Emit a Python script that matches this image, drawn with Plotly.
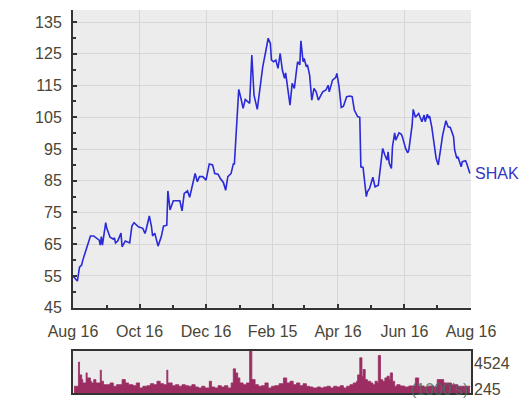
import plotly.graph_objects as go

# ---- price series ----
price_dates = [
    "2014-08-16", "2014-08-20", "2014-08-22", "2014-08-24", "2014-08-25", "2014-08-29", "2014-09-01",
    "2014-09-04", "2014-09-09", "2014-09-10", "2014-09-11", "2014-09-12", "2014-09-15", "2014-09-16",
    "2014-09-19", "2014-09-22", "2014-09-23", "2014-09-24", "2014-09-26", "2014-09-29", "2014-09-30",
    "2014-10-01", "2014-10-03", "2014-10-07", "2014-10-09", "2014-10-11", "2014-10-15", "2014-10-19",
    "2014-10-21", "2014-10-22", "2014-10-25", "2014-10-27", "2014-10-28", "2014-10-30", "2014-11-02",
    "2014-11-05", "2014-11-07", "2014-11-10", "2014-11-11", "2014-11-13", "2014-11-16", "2014-11-22",
    "2014-11-24", "2014-11-26", "2014-11-29", "2014-12-01", "2014-12-04", "2014-12-06", "2014-12-08",
    "2014-12-10", "2014-12-13", "2014-12-16", "2014-12-19", "2014-12-22", "2014-12-24", "2014-12-27",
    "2014-12-29", "2015-01-01", "2015-01-03", "2015-01-04", "2015-01-05", "2015-01-08", "2015-01-10",
    "2015-01-11", "2015-01-13", "2015-01-15", "2015-01-17", "2015-01-19", "2015-01-21", "2015-01-23",
    "2015-01-25", "2015-01-27", "2015-01-29", "2015-02-01", "2015-02-04", "2015-02-06", "2015-02-09",
    "2015-02-11", "2015-02-13", "2015-02-14", "2015-02-16", "2015-02-18", "2015-02-20", "2015-02-22",
    "2015-02-24", "2015-02-26", "2015-02-27", "2015-03-01", "2015-03-03", "2015-03-05", "2015-03-07",
    "2015-03-09", "2015-03-10", "2015-03-12", "2015-03-13", "2015-03-15", "2015-03-16", "2015-03-18",
    "2015-03-19", "2015-03-21", "2015-03-23", "2015-03-25", "2015-03-27", "2015-03-29", "2015-03-31",
    "2015-04-02", "2015-04-05", "2015-04-07", "2015-04-08", "2015-04-10", "2015-04-11", "2015-04-14",
    "2015-04-15", "2015-04-17", "2015-04-19", "2015-04-21", "2015-04-24", "2015-04-27", "2015-04-29",
    "2015-05-01", "2015-05-03", "2015-05-04", "2015-05-06", "2015-05-07", "2015-05-09", "2015-05-12",
    "2015-05-13", "2015-05-15", "2015-05-18", "2015-05-20", "2015-05-23", "2015-05-24", "2015-05-27",
    "2015-05-29", "2015-05-31", "2015-06-01", "2015-06-02", "2015-06-04", "2015-06-05", "2015-06-07",
    "2015-06-08", "2015-06-11", "2015-06-13", "2015-06-14", "2015-06-17", "2015-06-19", "2015-06-20",
    "2015-06-23", "2015-06-24", "2015-06-26", "2015-06-28", "2015-06-29", "2015-07-02", "2015-07-04",
    "2015-07-05", "2015-07-07", "2015-07-08", "2015-07-09", "2015-07-11", "2015-07-13", "2015-07-15",
    "2015-07-17", "2015-07-19", "2015-07-21", "2015-07-24", "2015-07-26", "2015-07-28", "2015-07-31",
    "2015-08-01", "2015-08-03", "2015-08-04", "2015-08-07", "2015-08-08", "2015-08-11", "2015-08-12",
    "2015-08-15",
]
price_values = [
    55.0, 53.4, 57.8, 58.5, 60.0, 64.2, 67.6,
    67.6, 66.3, 64.7, 67.4, 64.7, 71.8, 70.0,
    67.2, 66.6, 67.0, 65.4, 66.0, 68.5, 64.2,
    64.8, 66.0, 65.4, 70.7, 71.8, 70.5, 70.0,
    68.4, 69.5, 73.9, 70.5, 67.6, 68.5, 64.4,
    67.4, 70.7, 71.0, 81.8, 75.8, 78.7, 78.7,
    75.5, 81.0, 81.8, 79.8, 84.7, 87.3, 84.7,
    86.3, 86.3, 85.2, 90.3, 90.0, 87.3, 87.1,
    85.8, 84.4, 82.0, 84.4, 86.3, 87.3, 90.3,
    90.3, 101.0, 113.8, 111.0, 107.8, 110.6, 109.9,
    109.4, 124.6, 112.0, 107.5, 116.2, 120.9, 126.2,
    129.9, 128.3, 123.0, 122.5, 123.0, 120.4, 125.1,
    119.9, 117.3, 119.0, 113.6, 108.8, 115.7, 114.1,
    119.9, 122.5, 121.5, 129.1, 122.5, 123.5, 120.9,
    121.5, 118.3, 110.4, 114.1, 113.0, 110.4, 112.0,
    113.0, 113.6, 115.1, 113.0, 116.2, 116.7, 117.6,
    118.8, 114.6, 108.1, 108.5, 111.5, 111.7, 111.5,
    107.3, 105.7, 105.2, 105.0, 89.4, 89.2, 80.0,
    81.5, 82.6, 86.1, 83.1, 83.6, 86.3, 95.2,
    93.1, 91.5, 94.1, 90.5, 88.9, 95.8, 100.1,
    97.8, 100.1, 99.7, 98.9, 95.2, 93.8, 94.7,
    102.5, 107.5, 105.0, 105.7, 106.2, 103.6, 105.7,
    103.6, 106.0, 104.7, 105.4, 102.0, 96.8, 92.1,
    90.0, 95.2, 99.4, 103.9, 102.0, 101.8, 98.9,
    94.7, 92.1, 92.6, 89.4, 91.0, 91.3, 90.5,
    87.3,
]

# ---- volume series, thousands ----
volume_dates = [
    "2014-08-17", "2014-08-19", "2014-08-21", "2014-08-22", "2014-08-24", "2014-08-25", "2014-08-28",
    "2014-08-29", "2014-09-01", "2014-09-02", "2014-09-04", "2014-09-06", "2014-09-10", "2014-09-11",
    "2014-09-13", "2014-09-16", "2014-09-19", "2014-09-22", "2014-09-25", "2014-09-30", "2014-10-03",
    "2014-10-06", "2014-10-10", "2014-10-13", "2014-10-16", "2014-10-19", "2014-10-23", "2014-10-26",
    "2014-10-29", "2014-11-01", "2014-11-04", "2014-11-07", "2014-11-10", "2014-11-11", "2014-11-15",
    "2014-11-18", "2014-11-21", "2014-11-24", "2014-11-27", "2014-11-30", "2014-12-03", "2014-12-06",
    "2014-12-09", "2014-12-12", "2014-12-15", "2014-12-19", "2014-12-21", "2014-12-24", "2014-12-27",
    "2014-12-30", "2015-01-02", "2015-01-05", "2015-01-08", "2015-01-10", "2015-01-12", "2015-01-14",
    "2015-01-16", "2015-01-19", "2015-01-22", "2015-01-25", "2015-01-27", "2015-01-30", "2015-02-02",
    "2015-02-05", "2015-02-08", "2015-02-11", "2015-02-14", "2015-02-17", "2015-02-21", "2015-02-25",
    "2015-02-28", "2015-03-03", "2015-03-06", "2015-03-09", "2015-03-12", "2015-03-15", "2015-03-18",
    "2015-03-21", "2015-03-24", "2015-03-28", "2015-03-31", "2015-04-03", "2015-04-06", "2015-04-09",
    "2015-04-12", "2015-04-15", "2015-04-18", "2015-04-21", "2015-04-24", "2015-04-27", "2015-04-30",
    "2015-05-03", "2015-05-04", "2015-05-06", "2015-05-08", "2015-05-09", "2015-05-11", "2015-05-13",
    "2015-05-16", "2015-05-18", "2015-05-20", "2015-05-22", "2015-05-23", "2015-05-25", "2015-05-27",
    "2015-05-29", "2015-05-31", "2015-06-02", "2015-06-03", "2015-06-05", "2015-06-07", "2015-06-09",
    "2015-06-12", "2015-06-16", "2015-06-20", "2015-06-26", "2015-06-29", "2015-07-04", "2015-07-08",
    "2015-07-13", "2015-07-16", "2015-07-22", "2015-07-29", "2015-08-04", "2015-08-10", "2015-08-15",
]
volume_values = [
    727, 727, 3331, 1953, 1443, 1085, 2170,
    1628, 1269, 1085, 1443, 1085, 2463, 1269,
    901, 901, 1085, 727, 901, 1443, 1085,
    901, 792, 1085, 543, 727, 792, 1009,
    901, 1269, 1009, 901, 2463, 1085, 792,
    901, 727, 901, 792, 727, 901, 651,
    543, 727, 543, 1269, 651, 543, 792,
    651, 792, 543, 1085, 2604, 2170, 1628,
    1085, 901, 1085, 4524, 1443, 901, 727,
    792, 1085, 543, 727, 792, 1009, 1628,
    1085, 1269, 901, 1085, 792, 1009, 727,
    651, 543, 651, 543, 651, 727, 543,
    727, 651, 792, 543, 727, 901, 1085,
    1269, 1953, 3798, 1812, 2528, 1443, 1269,
    1085, 901, 1269, 1085, 4047, 1443, 1269,
    1628, 1812, 1443, 2170, 1269, 727, 901,
    760, 651, 760, 1628, 760, 651, 760,
    651, 1443, 1085, 901, 727, 727, 651,
]

tick_dates = ["2014-08-16", "2014-10-16", "2014-12-16", "2015-02-15", "2015-04-16", "2015-06-16", "2015-08-16"]
tick_labels = ["Aug 16", "Oct 16", "Dec 16", "Feb 15", "Apr 16", "Jun 16", "Aug 16"]
minor_dates = ["2014-09-16", "2014-11-16", "2015-01-16", "2015-03-16", "2015-05-16", "2015-07-16"]
price_ticks = [45, 55, 65, 75, 85, 95, 105, 115, 125, 135]
price_minor = [50, 60, 70, 80, 90, 100, 110, 120, 130]
volume_labels = ["4524", "245"]
ticker = "SHAK"

FONT = "Liberation Sans, Arial, sans-serif"
TXT = "#4a4535"
BG = "#ececec"
GRID = "#d6d6d6"
AX = "#333333"

fig = go.Figure()
fig.add_trace(go.Scatter(
    x=price_dates, y=price_values, mode="lines",
    line=dict(color="#2a2ad8", width=1.6), xaxis="x", yaxis="y", showlegend=False,
))
fig.add_trace(go.Scatter(
    x=volume_dates, y=volume_values, mode="lines", fill="tozeroy",
    line=dict(color="#9b2d62", width=0.8, shape="hv"), fillcolor="#9b2d62",
    xaxis="x2", yaxis="y2", showlegend=False,
))

x_range = ["2014-08-16", "2015-08-16"]
fig.update_layout(
    width=525, height=399, autosize=False,
    margin=dict(l=73, r=54, t=10, b=6, autoexpand=False),
    paper_bgcolor="white", plot_bgcolor=BG,
    font=dict(family=FONT, size=16, color=TXT),
    xaxis=dict(
        domain=[0, 1], anchor="y", range=x_range, type="date", automargin=False,
        tickmode="array", tickvals=tick_dates, ticktext=tick_labels,
        ticks="inside", ticklen=4, tickcolor=AX, tickwidth=1.5,
        showgrid=True, gridcolor=GRID, gridwidth=1,
        showline=True, linecolor=AX, linewidth=2,
        minor=dict(tickmode="array", tickvals=minor_dates, ticks="inside", ticklen=3,
                   tickcolor=AX, tickwidth=1.5, showgrid=False),
        ticklabelstandoff=8, zeroline=False,
        tickfont=dict(family=FONT, size=16, color=TXT),
    ),
    yaxis=dict(
        domain=[0.2227, 1.0], anchor="x", range=[45, 138.8], automargin=False,
        tickmode="array", tickvals=price_ticks,
        ticks="inside", ticklen=4, tickcolor=AX, tickwidth=1.5,
        showgrid=True, gridcolor=GRID, gridwidth=1,
        showline=True, linecolor=AX, linewidth=2,
        minor=dict(tickmode="array", tickvals=price_minor, ticks="inside", ticklen=3,
                   tickcolor=AX, tickwidth=1.5, showgrid=False),
        ticklabelstandoff=6, zeroline=False,
        tickfont=dict(family=FONT, size=16, color=TXT),
    ),
    xaxis2=dict(
        domain=[0, 1], anchor="y2", range=x_range, type="date", automargin=False,
        showticklabels=False, ticks="", showgrid=False, zeroline=False,
        showline=True, mirror=True, linecolor=AX, linewidth=1.5,
    ),
    yaxis2=dict(
        domain=[0, 0.1104], anchor="x2", range=[0, 4560], automargin=False,
        showticklabels=False, ticks="", showgrid=False, zeroline=False,
        showline=True, mirror=True, linecolor=AX, linewidth=1.5,
    ),
    annotations=[
        dict(x=price_dates[-1], y=price_values[-1], xref="x", yref="y", text=ticker,
             showarrow=False, xanchor="left", yanchor="middle", xshift=3,
             font=dict(family=FONT, size=16, color="#3434c8")),
        dict(x=1.0, y=0.076, xref="paper", yref="paper", text=volume_labels[0],
             showarrow=False, xanchor="left", yanchor="middle", xshift=1,
             font=dict(family=FONT, size=16, color=TXT)),
        dict(x=1.0, y=0.009, xref="paper", yref="paper", text=volume_labels[1],
             showarrow=False, xanchor="left", yanchor="middle", xshift=1,
             font=dict(family=FONT, size=16, color=TXT)),
        dict(x=1.0, y=0.009, xref="paper", yref="paper", text="(1000's)",
             showarrow=False, xanchor="right", yanchor="middle", xshift=-1,
             font=dict(family=FONT, size=16, color="rgba(70,110,95,0.85)")),
    ],
)

fig.write_html("out.html")
